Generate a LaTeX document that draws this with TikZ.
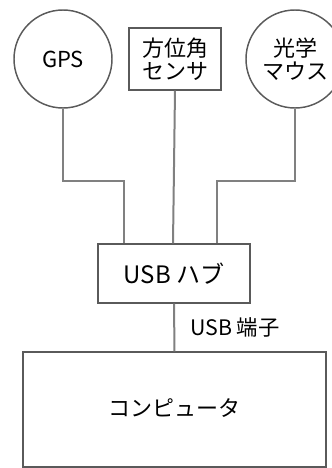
\documentclass[tikz,border=0pt]{standalone}
\usepackage{fontspec}
\setmainfont{Noto Sans CJK JP}
\usetikzlibrary{positioning}
\definecolor{wiregray}{HTML}{808080}
\definecolor{edgegray}{HTML}{5A5A5A}

\begin{document}
\begin{tikzpicture}[x=0.75pt,y=-0.75pt,
    device/.style={circle, draw=edgegray, line width=1.1pt, minimum size=73.5pt, inner sep=0pt, align=center, font=\fontsize{16.5}{17}\selectfont},
    unit/.style={rectangle, draw=edgegray, line width=1.1pt, inner sep=0pt, align=center, font=\fontsize{16.5}{17}\selectfont},
    wire/.style={draw=wiregray, line width=1.5pt}]
    \useasboundingbox (0,0) rectangle (332,468);
    \clip (0,0) rectangle (332,468);

    % Input devices
    \node[device] (gps) at (63,59) {GPS};
    \node[unit, minimum width=69pt, minimum height=46.5pt] (sensor) at (175,59) {方位角\\センサ};
    \node[device] (mouse) at (295,59) {光学\\マウス};

    % Hub and computer
    \node[unit, minimum width=114pt, minimum height=44pt, font=\fontsize{18}{18}\selectfont] (hub) at (174,273.5) {USB ハブ};
    \node[unit, minimum width=227pt, minimum height=86pt] (pc) at (174.5,409.5) {\raisebox{3pt}{コンピュータ}};

    % Cables
    \draw[wire] (gps.south) -- ++(0,72) -| ([xshift=-37.5pt]hub.north);
    \draw[wire] (sensor.south) -- ([xshift=-0.75pt]hub.north);
    \draw[wire] (mouse.south) -- ++(0,72) -| ([xshift=32pt]hub.north);
    \draw[wire] (hub.south) -- node[right=8pt, font=\fontsize{16}{16}\selectfont] (port) {USB 端子} (pc.north);
\end{tikzpicture}
\end{document}
